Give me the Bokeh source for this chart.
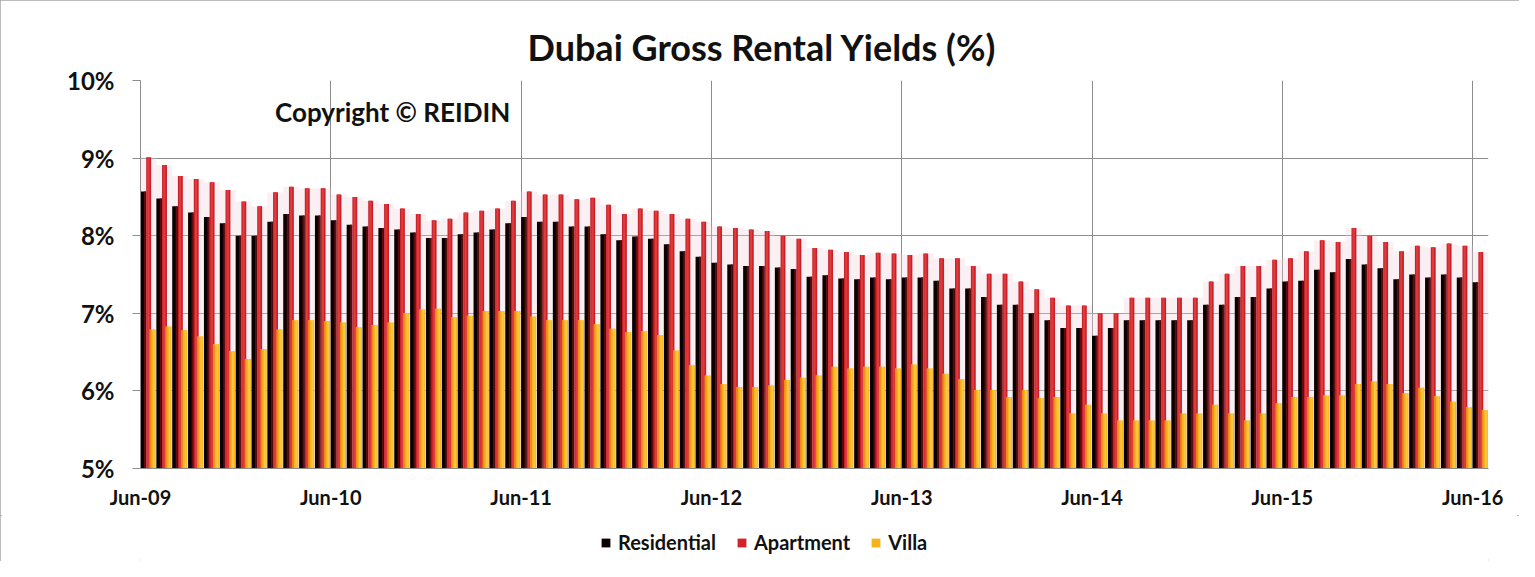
from bokeh.plotting import figure
from bokeh.layouts import column
from bokeh.models import (ColumnDataSource, Range1d, FixedTicker, Legend, LegendItem,
                          Label, PrintfTickFormatter)
from bokeh.transform import dodge
from bokeh.embed import file_html
from bokeh.resources import INLINE

# ---------------- data ----------------
tick_labels = ["Jun-09", "Jun-10", "Jun-11", "Jun-12", "Jun-13", "Jun-14", "Jun-15", "Jun-16"]

residential = [8.57, 8.48, 8.38, 8.30, 8.24, 8.16, 8.00, 8.00, 8.18, 8.28, 8.26, 8.26,
               8.20, 8.14, 8.12, 8.10, 8.08, 8.04, 7.97, 7.97, 8.02, 8.04, 8.08, 8.16,
               8.24, 8.18, 8.18, 8.12, 8.12, 8.02, 7.94, 7.99, 7.96, 7.89, 7.80, 7.73,
               7.65, 7.63, 7.61, 7.61, 7.59, 7.57, 7.47, 7.49, 7.45, 7.44, 7.46, 7.44,
               7.46, 7.46, 7.42, 7.32, 7.32, 7.21, 7.11, 7.11, 7.00, 6.91, 6.81, 6.81,
               6.71, 6.81, 6.91, 6.91, 6.91, 6.91, 6.91, 7.11, 7.11, 7.21, 7.21, 7.32,
               7.41, 7.42, 7.56, 7.53, 7.70, 7.63, 7.58, 7.44, 7.50, 7.46, 7.50, 7.46,
               7.40]

apartment = [9.01, 8.91, 8.77, 8.73, 8.69, 8.59, 8.44, 8.38, 8.56, 8.63, 8.61, 8.61,
             8.53, 8.50, 8.45, 8.41, 8.35, 8.28, 8.20, 8.22, 8.30, 8.32, 8.35, 8.45,
             8.57, 8.53, 8.53, 8.47, 8.49, 8.40, 8.28, 8.35, 8.32, 8.28, 8.22, 8.18,
             8.12, 8.10, 8.08, 8.06, 8.00, 7.96, 7.84, 7.82, 7.79, 7.75, 7.78, 7.77,
             7.75, 7.77, 7.71, 7.71, 7.61, 7.51, 7.51, 7.41, 7.31, 7.20, 7.10, 7.10,
             7.00, 7.00, 7.20, 7.20, 7.20, 7.20, 7.20, 7.41, 7.51, 7.61, 7.61, 7.69,
             7.71, 7.80, 7.94, 7.92, 8.10, 8.00, 7.92, 7.80, 7.87, 7.85, 7.90, 7.87,
             7.79]

villa = [6.79, 6.83, 6.78, 6.70, 6.60, 6.51, 6.41, 6.54, 6.79, 6.91, 6.91, 6.90,
         6.88, 6.82, 6.85, 6.88, 7.00, 7.05, 7.06, 6.95, 6.97, 7.03, 7.03, 7.03,
         6.96, 6.91, 6.91, 6.91, 6.86, 6.80, 6.76, 6.77, 6.72, 6.52, 6.33, 6.20,
         6.09, 6.05, 6.05, 6.07, 6.14, 6.17, 6.20, 6.31, 6.29, 6.31, 6.31, 6.29,
         6.34, 6.29, 6.22, 6.15, 6.01, 6.01, 5.92, 6.01, 5.91, 5.92, 5.71, 5.82,
         5.71, 5.62, 5.62, 5.62, 5.62, 5.71, 5.71, 5.82, 5.71, 5.62, 5.71, 5.84,
         5.92, 5.92, 5.94, 5.94, 6.09, 6.12, 6.09, 5.97, 6.04, 5.93, 5.86, 5.79,
         5.75]

series_names = ["Residential", "Apartment", "Villa"]
series_colors = ["#0a0000", "#d2232b", "#f6b21f"]
y_ticks = [5, 6, 7, 8, 9, 10]

month_index = list(range(len(residential)))
src = ColumnDataSource(dict(m=month_index, res=residential, apt=apartment, vil=villa))

FONT = "Lato"

p = figure(width=1519, height=515, output_backend="svg", toolbar_location=None,
           x_range=Range1d(0, len(residential)), y_range=Range1d(5, 10),
           min_border_left=140, min_border_right=31, min_border_top=80,
           min_border_bottom=47, background_fill_color="white",
           border_fill_color="white", outline_line_color=None)

# soft pink glow behind the apartment bars
p.vbar(x=dodge("m", 0.5, range=p.x_range), top="apt", bottom=0, width=1.0, source=src,
       fill_color="#f2d3dc", fill_alpha=0.35, line_color=None)

# Residential (black with dark maroon shading)
p.vbar(x=dodge("m", 0.18, range=p.x_range), top="res", bottom=0, width=0.36,
       source=src, fill_color=series_colors[0], line_color=None)
p.vbar(x=dodge("m", 0.28, range=p.x_range), top="res", bottom=0, width=0.12,
       source=src, fill_color="#5e0c0c", line_color=None)

# Apartment (red)
p.vbar(x=dodge("m", 0.515, range=p.x_range), top="apt", bottom=0, width=0.31,
       source=src, fill_color="#c8202a", line_color=None)
p.vbar(x=dodge("m", 0.50, range=p.x_range), top="apt", bottom=0, width=0.14,
       source=src, fill_color="#e03a3a", line_color=None)

# Villa (yellow / orange)
p.vbar(x=dodge("m", 0.77, range=p.x_range), top="vil", bottom=0, width=0.38,
       source=src, fill_color=series_colors[2], line_color=None)
p.vbar(x=dodge("m", 0.63, range=p.x_range), top="vil", bottom=0, width=0.10,
       source=src, fill_color="#ec8c1a", line_color=None)
p.vbar(x=dodge("m", 0.84, range=p.x_range), top="vil", bottom=0, width=0.12,
       source=src, fill_color="#fac840", line_color=None)

# axes
p.xaxis.ticker = FixedTicker(ticks=[12 * i for i in range(len(tick_labels))])
p.xaxis.major_label_overrides = {12 * i: lab for i, lab in enumerate(tick_labels)}
p.yaxis.ticker = FixedTicker(ticks=y_ticks)
p.yaxis.formatter = PrintfTickFormatter(format="%d%%")

for ax in (p.xaxis, p.yaxis):
    ax.axis_line_color = "#8c8c8c"
    ax.major_tick_line_color = "#8c8c8c"
    ax.minor_tick_line_color = None
    ax.major_tick_in = 0
    ax.major_label_text_font = FONT
    ax.major_label_text_font_style = "bold"
    ax.major_label_text_color = "#111111"
p.yaxis.major_label_text_font_size = "24px"
p.xaxis.major_label_text_font_size = "20px"
p.yaxis.major_tick_out = 8
p.yaxis.major_label_standoff = 18
p.xaxis.major_tick_out = 0
p.xaxis.major_label_standoff = 16

p.xgrid.grid_line_color = "#8c8c8c"
p.ygrid.grid_line_color = "#8c8c8c"

# title
p.title.text = "Dubai Gross Rental Yields (%)"
p.title.text_font = FONT
p.title.text_font_style = "bold"
p.title.text_font_size = "36px"
p.title.text_color = "#111111"
p.title.align = "left"
p.title.offset = 387
p.title.standoff = 23

p.add_layout(Label(x=15.9, y=9.59, text="Copyright © REIDIN", text_align="center",
                   text_baseline="middle", text_font=FONT, text_font_style="bold",
                   text_font_size="26px", text_color="#111111"))

# ---------------- legend strip ----------------
lf = figure(width=1519, height=46, output_backend="svg", toolbar_location=None,
            x_range=Range1d(0, 1), y_range=Range1d(0, 1),
            min_border_left=140, min_border_right=31, min_border_top=0,
            min_border_bottom=0, outline_line_color=None,
            background_fill_color="white", border_fill_color="white")
lf.axis.visible = False
lf.grid.visible = False
# swatch renderers: one off-screen dummy box each, only used to draw legend swatches
swatch = ColumnDataSource(dict(left=[-3], right=[-2], top=[-2], bottom=[-3]))
items = []
for name, col in zip(series_names, series_colors):
    r = lf.quad(left="left", right="right", top="top", bottom="bottom", source=swatch,
                fill_color=col, line_color=None)
    items.append(LegendItem(label=name, renderers=[r]))
legend = Legend(items=items, orientation="horizontal", location=(460, 7),
                label_text_font=FONT, label_text_font_style="bold",
                label_text_color="#111111",
                label_text_font_size="20px", glyph_width=11, glyph_height=11,
                spacing=20, label_standoff=7, border_line_color=None,
                background_fill_alpha=0, margin=0, padding=4)
lf.add_layout(legend)

layout = column(p, lf, spacing=0)
layout.styles = {"outline": "2px solid #a6a6a6", "outline-offset": "-2px"}

open("out.html", "w").write(file_html(layout, INLINE))
